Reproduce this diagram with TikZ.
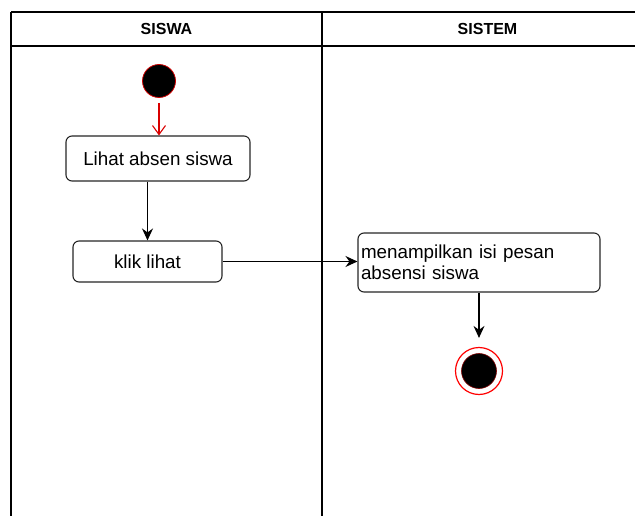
\documentclass[tikz,border=0pt]{standalone}
\usepackage{fontspec}
\setmainfont{Liberation Sans}
\usetikzlibrary{arrows.meta}
\begin{document}
\begin{tikzpicture}[x=1pt,y=-1pt,
  lane/.style={line width=1.4pt, draw=black},
  lanetitle/.style={font=\bfseries\fontsize{16}{19}\selectfont, inner sep=0pt},
  action/.style={draw=black!85, line width=1.1pt, rounded corners=6pt, fill=white,
    inner sep=0pt, font=\fontsize{18.8}{21.5}\selectfont},
  flow/.style={-{Stealth[length=12pt,width=11pt,inset=4pt]}, line width=1.2pt},
  startflow/.style={draw=red!85!black, line width=1.1pt,
    -{Straight Barb[length=9pt,width=13pt]}},
]
\useasboundingbox (0,0) rectangle (635,516);
\clip (0,0) rectangle (635,516);

% swimlanes
\draw[lane] (11,12) -- (680,12);
\draw[lane] (11,46) -- (680,46);
\draw[lane] (11,12) -- (11,540);
\draw[lane] (322,12) -- (322,540);
\node[lanetitle] (siswa) at (166.5,29) {SISWA};
\node[lanetitle] (sistem) at (487.5,29) {SISTEM};

% initial node
\node[circle, fill=black, draw=red!80!black, line width=0.8pt,
      minimum size=33pt, inner sep=0pt] (start) at (159,81) {};

% actions
\node[action, minimum width=184pt, minimum height=45pt] (lihat) at (158,158.5) {Lihat absen siswa};
\node[action, minimum width=149pt, minimum height=41pt] (klik) at (147.5,261.5) {klik lihat};
\node[action, minimum width=242pt, minimum height=59pt, text width=236pt, align=left]
     (tampil) at (479,262.5) {menampilkan isi pesan\\absensi siswa};

% final node
\node[circle, draw=red, line width=1.2pt, minimum size=47pt, inner sep=0pt] (end) at (479,371) {};
\node[circle, fill=black, draw=red!50!black, line width=0.6pt, minimum size=35pt, inner sep=0pt] (endcore) at (end.center) {};

% flows
\draw[startflow, shorten <=5pt] (start.south) -- (start.south |- lihat.north);
\draw[flow] (lihat.south -| klik.north) -- (klik.north);
\draw[flow] (klik.east) -- (klik.east -| tampil.west);
\draw[flow, shorten >=9pt] (tampil.south) -- (end.north);
\end{tikzpicture}
\end{document}
